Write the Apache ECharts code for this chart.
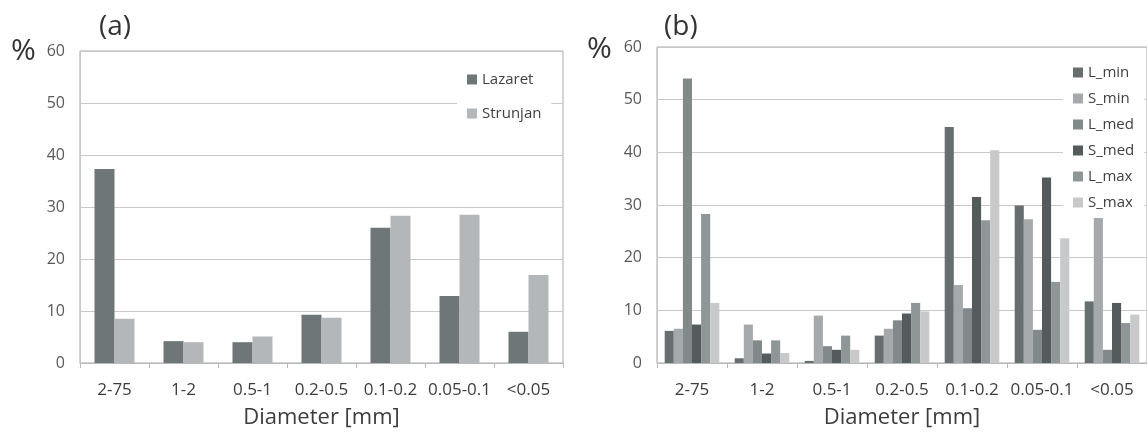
<!DOCTYPE html>
<html><head><meta charset="utf-8">
<script src="https://cdn.jsdelivr.net/npm/echarts@6/dist/echarts.min.js"></script>
<style>html,body{margin:0;padding:0;background:#fff}#c{width:1147px;height:434px}</style>
</head><body><div id="c"></div>
<script>
const categories = ['2-75','1-2','0.5-1','0.2-0.5','0.1-0.2','0.05-0.1','<0.05'];
const lazaret  = [37.3, 4.2, 4.0, 9.3, 26.0, 12.9, 6.0];
const strunjan = [8.5, 4.0, 5.1, 8.7, 28.3, 28.5, 16.9];
const L_min = [6.1, 0.9, 0.4, 5.2, 44.8, 29.9, 11.7];
const S_min = [6.5, 7.3, 9.0, 6.5, 14.8, 27.3, 27.9];
const L_med = [54.0, 4.3, 3.2, 8.1, 10.4, 6.3, 2.5];
const S_med = [7.3, 1.8, 2.5, 9.4, 31.5, 35.2, 11.4];
const L_max = [28.3, 4.3, 5.2, 11.4, 27.1, 15.4, 7.6];
const S_max = [11.4, 1.9, 2.5, 9.8, 40.4, 23.7, 9.2];
const namesA = ['Lazaret','Strunjan'];
const namesB = ['L_min','S_min','L_med','S_med','L_max','S_max'];
const colorsA = ['#6e7678','#b4b7b9'];
const colorsB = ['#666e70','#a5a9ab','#82898b','#535b5d','#8f9698','#c7c9ca'];
const dataA = [lazaret, strunjan];
const dataB = [L_min, S_min, L_med, S_med, L_max, S_max];

const FONT = 'Open Sans';
function xAx(gi){
  return {
    type:'category', gridIndex:gi, data:categories,
    axisLine:{lineStyle:{color:'#b8b8b8',width:1}},
    axisTick:{show:true,length:5,lineStyle:{color:'#b8b8b8'}},
    axisLabel:{color:'#3c3c3c',fontSize:17,fontFamily:FONT,margin:19,interval:0},
    name:'Diameter [mm]', nameLocation:'middle', nameGap:44,
    nameTextStyle:{color:'#3c3c3c',fontSize:22,fontFamily:FONT}
  };
}
function yAx(gi){
  return {
    type:'value', gridIndex:gi, min:0, max:60, interval:10,
    axisLine:{show:true,lineStyle:{color:'#c8c8c8'}},
    axisTick:{show:false},
    axisLabel:{color:'#595959',fontSize:16,fontFamily:FONT,margin:15},
    splitLine:{lineStyle:{color:'#c8c8c8',width:1}}
  };
}
const series = [];
namesA.forEach((n,i)=>series.push({name:n,type:'bar',xAxisIndex:0,yAxisIndex:0,data:dataA[i],
  itemStyle:{color:colorsA[i]},barGap:'0%',barCategoryGap:'42%'}));
namesB.forEach((n,i)=>series.push({name:n,type:'bar',xAxisIndex:1,yAxisIndex:1,data:dataB[i],
  itemStyle:{color:colorsB[i]},barGap:'0%',barCategoryGap:'22%'}));

const chart = echarts.init(document.getElementById('c'),null,{renderer:'canvas'});
chart.setOption({
  animation:false,
  backgroundColor:'#fff',
  textStyle:{fontFamily:FONT},
  grid:[
    {left:80, top:51, width:483, height:322, show:true, borderColor:'#a8a8a8', borderWidth:1, containLabel:false},
    {left:657, top:47, width:495, height:322, show:true, borderColor:'#a8a8a8', borderWidth:1, containLabel:false}
  ],
  xAxis:[xAx(0), xAx(1)],
  yAxis:[yAx(0), yAx(1)],
  legend:[
    {data:namesA, orient:'vertical', left:457, top:62, padding:[10,10,10,10], itemGap:19,
     itemWidth:10, itemHeight:10, icon:'rect', backgroundColor:'#fff',
     textStyle:{color:'#404040',fontSize:15,fontFamily:FONT}},
    {data:namesB, orient:'vertical', left:1063, top:57, padding:[8,10,8,10], itemGap:11,
     itemWidth:10, itemHeight:10, icon:'rect', backgroundColor:'#fff',
     textStyle:{color:'#404040',fontSize:15,fontFamily:FONT}}
  ],
  graphic:[
    {type:'text', left:11, top:36, style:{text:'%', fontSize:30, fontFamily:FONT, fill:'#333'}},
    {type:'text', left:99, top:13, style:{text:'(a)', fontSize:28, fontFamily:FONT, fill:'#333'}},
    {type:'text', left:587, top:34, style:{text:'%', fontSize:30, fontFamily:FONT, fill:'#333'}},
    {type:'text', left:664, top:13, style:{text:'(b)', fontSize:28, fontFamily:FONT, fill:'#333'}}
  ],
  series: series
});
</script></body></html>
